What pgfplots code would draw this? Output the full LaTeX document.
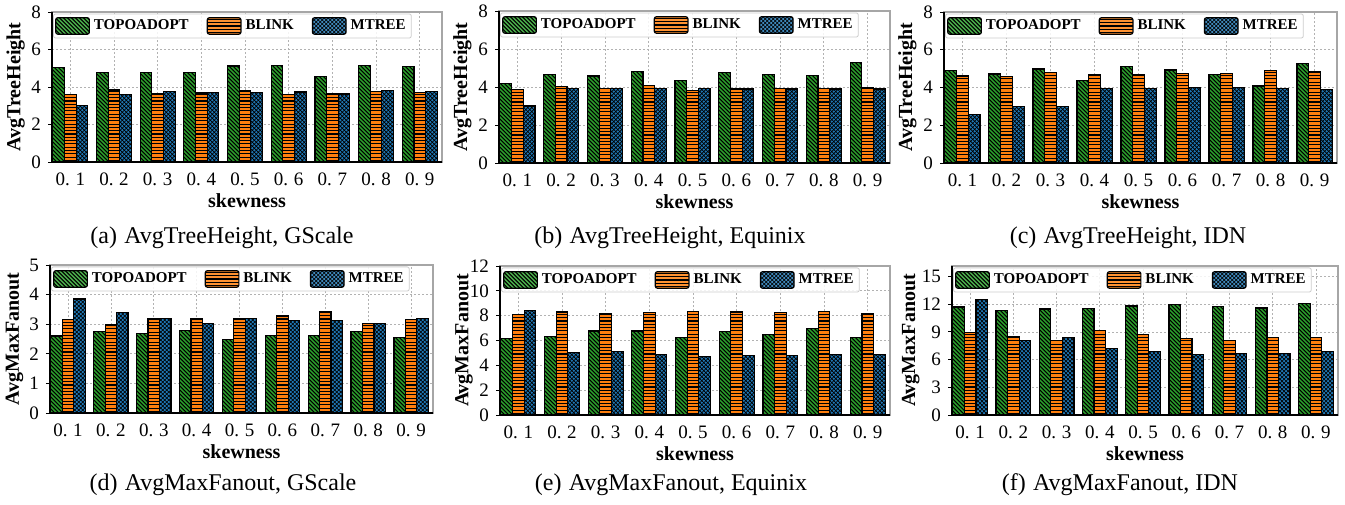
\documentclass[border=0pt]{standalone}
\usepackage{fontspec}
\setmainfont{Liberation Serif}
\usepackage{pgfplots}
\usepackage{pgfplotstable}
\pgfplotsset{compat=1.18}

\definecolor{cgreen}{RGB}{44,160,44}
\definecolor{corange}{RGB}{255,127,14}
\definecolor{cblue}{RGB}{31,119,180}

\pgfplotstableread{
x g o b
0 5.04 3.58 3.03
1 4.78 3.84 3.58
2 4.78 3.65 3.75
3 4.78 3.68 3.72
4 5.12 3.81 3.70
5 5.13 3.59 3.73
6 4.57 3.65 3.63
7 5.13 3.77 3.82
8 5.08 3.70 3.75
}\tA
\pgfplotstableread{
x g o b
0 4.19 3.85 3.00
1 4.66 4.01 3.94
2 4.58 3.92 3.94
3 4.82 4.10 3.94
4 4.33 3.82 3.94
5 4.75 3.90 3.89
6 4.66 3.94 3.90
7 4.61 3.94 3.89
8 5.30 3.98 3.89
}\tB
\pgfplotstableread{
x g o b
0 4.89 4.61 2.56
1 4.72 4.58 3.00
2 4.98 4.79 3.00
3 4.36 4.66 3.94
4 5.12 4.70 3.94
5 4.93 4.75 3.99
6 4.70 4.75 3.99
7 4.08 4.88 3.96
8 5.26 4.82 3.89
}\tC
\pgfplotstableread{
x g o b
0 2.60 3.16 3.85
1 2.75 2.99 3.39
2 2.69 3.19 3.19
3 2.80 3.19 3.03
4 2.49 3.19 3.19
5 2.62 3.28 3.12
6 2.62 3.43 3.12
7 2.75 3.02 3.02
8 2.56 3.16 3.20
}\tD
\pgfplotstableread{
x g o b
0 6.17 8.11 8.43
1 6.34 8.30 5.02
2 6.77 8.16 5.13
3 6.77 8.27 4.89
4 6.23 8.32 4.70
5 6.71 8.30 4.78
6 6.50 8.24 4.81
7 6.95 8.32 4.86
8 6.26 8.19 4.86
}\tE
\pgfplotstableread{
x g o b
0 11.71 8.96 12.54
1 11.35 8.49 8.06
2 11.49 8.06 8.38
3 11.57 9.14 7.19
4 11.82 8.71 6.90
5 12.00 8.28 6.54
6 11.75 8.06 6.69
7 11.60 8.42 6.69
8 12.11 8.38 6.90
}\tF

\makeatletter
\newcommand{\ppdims}{%
  \let\tikz@path@picture\pgfutil@empty
  \pgftransformreset
  \pgfpointdiff{\pgfpointanchor{path picture bounding box}{south west}}{\pgfpointanchor{path picture bounding box}{north east}}%
  \pgfgetlastxy{\bw}{\bh}%
}
\makeatother

\pgfplotsset{
  gsty/.style={fill=cgreen, draw=black, line width=0.6pt,
    path picture={\ppdims
      \pgfmathtruncatemacro\nn{min((\bw+\bh)/2+2,160)}%
      \draw[path picture={}, black, line width=0.5pt] foreach \i in {0,...,\nn} {([xshift=-\bh+\i*2pt-2pt]path picture bounding box.north west) -- ++(\bh+4pt,-\bh-4pt)};
    }},
  osty/.style={fill=corange, draw=black, line width=0.6pt,
    path picture={\ppdims
      \pgfmathtruncatemacro\nn{min(\bh/1.65+1,160)}%
      \draw[path picture={}, black, line width=0.55pt] foreach \i in {0,...,\nn} {([yshift=\i*1.65pt+0.8pt]path picture bounding box.south west) -- ++(\bw,0pt)};
    }},
  bsty/.style={fill=cblue, draw=black, line width=0.6pt,
    path picture={\ppdims
      \pgfmathtruncatemacro\nn{min((\bw+\bh)/2+2,160)}%
      \draw[path picture={}, black, line width=0.3pt] foreach \i in {0,...,\nn} {([xshift=-\bh+\i*2pt-2pt]path picture bounding box.north west) -- ++(\bh+4pt,-\bh-4pt) ([xshift=-\bh+\i*2pt-2pt]path picture bounding box.south west) -- ++(\bh+4pt,\bh+4pt)};
    }},
  panel/.style={
    scale only axis,
    ybar, bar width=0.2667,
    xmin=-0.42, xmax=8.51, ymin=0,
    xtick={0,...,8},
    xticklabels={0.\hspace{0.3em}1,0.\hspace{0.3em}2,0.\hspace{0.3em}3,0.\hspace{0.3em}4,0.\hspace{0.3em}5,0.\hspace{0.3em}6,0.\hspace{0.3em}7,0.\hspace{0.3em}8,0.\hspace{0.3em}9},
    x tick label style={font=\fontsize{9.5}{10}\selectfont},
    y tick label style={font=\fontsize{9.5}{10}\selectfont},
    /pgf/number format/assume math mode=true,
    xtick style={draw=none},
    ytick pos=left,
    tick align=outside,
    major tick length=2pt,
    ytick style={black, line width=0.5pt},
    axis line style={draw=gray!70, line width=0.6pt},
    xmajorgrids, ymajorgrids,
    grid style={gray!60, line width=0.4pt, dash pattern=on 1pt off 1pt},
    xlabel={skewness},
    label style={font=\bfseries\fontsize{10}{12}\selectfont},
    xlabel style={yshift=3pt},
    ylabel style={at={(axis description cs:-0.069,0.5)}, anchor=south, inner sep=0pt},
    legend columns=3,
    legend image code/.code={\draw[##1] (0pt,-4.1pt) rectangle (16.8pt,4.1pt);},
    legend style={at={(0.003,0.99)}, anchor=north west, draw=gray!40, rounded corners=1pt,
      fill=white, fill opacity=0.85, text opacity=1, inner sep=0.8pt,
      font=\bfseries\fontsize{7.5}{8}\selectfont,
      /tikz/every even column/.append style={column sep=7pt}},
    after end axis/.code={\draw[black, line width=0.9pt] (rel axis cs:0,1) -- (rel axis cs:0,0) -- (rel axis cs:1,0);},
  }
}

\newcommand{\bars}[1]{%
  \addplot[gsty, bar shift=-0.2667] table[x=x,y=g]{#1};
  \addplot[osty, bar shift=0] table[x=x,y=o]{#1};
  \addplot[bsty, bar shift=0.2667] table[x=x,y=b]{#1};
  \legend{TOPOADOPT,BLINK,MTREE}
}

\begin{document}
\begin{tikzpicture}
\useasboundingbox (0,0) rectangle (672.5pt,-252pt);

\begin{axis}[panel, at={(26pt,-81pt)}, anchor=south west, width=195pt, height=75pt,
  ymax=8, ytick={0,2,4,6,8}, ylabel={AvgTreeHeight}]
\bars{\tA}
\end{axis}

\begin{axis}[panel, at={(249.5pt,-81.5pt)}, anchor=south west, width=195.5pt, height=76pt,
  ymax=8, ytick={0,2,4,6,8}, ylabel={AvgTreeHeight}]
\bars{\tB}
\end{axis}

\begin{axis}[panel, at={(472pt,-81.5pt)}, anchor=south west, width=196.5pt, height=75.5pt,
  ymax=8, ytick={0,2,4,6,8}, ylabel={AvgTreeHeight}]
\bars{\tC}
\end{axis}

\begin{axis}[panel, at={(25pt,-206.5pt)}, anchor=south west, width=191.5pt, height=74pt,
  ymax=5, ytick={0,1,2,3,4,5}, ylabel={AvgMaxFanout}]
\bars{\tD}
\end{axis}

\begin{axis}[panel, at={(250pt,-207.5pt)}, anchor=south west, width=195pt, height=74.5pt,
  ymax=12, ytick={0,2,4,6,8,10,12}, ylabel={AvgMaxFanout}]
\bars{\tE}
\end{axis}

\begin{axis}[panel, at={(476pt,-207.5pt)}, anchor=south west, width=193pt, height=74.5pt,
  ymax=16.15, ytick={0,3,6,9,12,15}, ylabel={AvgMaxFanout},
  ylabel style={at={(axis description cs:-0.083,0.5)}}]
\bars{\tF}
\end{axis}

\begin{scope}[every node/.style={font=\fontsize{12}{14}\selectfont, anchor=base}]
\node at (111pt,-121.5pt) {(a)\hspace{0.3em}AvgTreeHeight, GScale};
\node at (335pt,-121.5pt) {(b)\hspace{0.3em}AvgTreeHeight, Equinix};
\node at (564pt,-121.5pt) {(c)\hspace{0.3em}AvgTreeHeight, IDN};
\node at (111.5pt,-245pt) {(d)\hspace{0.3em}AvgMaxFanout, GScale};
\node at (335.5pt,-245pt) {(e)\hspace{0.3em}AvgMaxFanout, Equinix};
\node at (560pt,-245pt) {(f)\hspace{0.3em}AvgMaxFanout, IDN};
\end{scope}
\end{tikzpicture}
\end{document}
